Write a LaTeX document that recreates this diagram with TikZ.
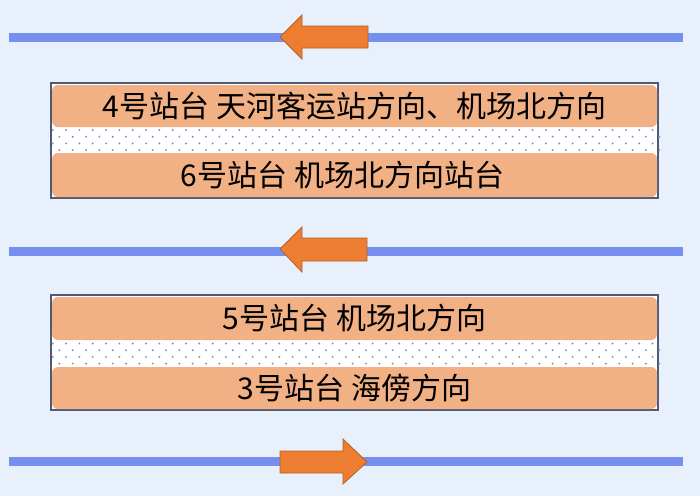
\documentclass[tikz,border=0pt]{standalone}
\usepackage{fontspec}
\newfontfamily\cjk{Noto Sans CJK SC}
\definecolor{bgc}{RGB}{232,240,251}
\definecolor{railc}{RGB}{118,144,240}
\definecolor{arrowc}{RGB}{237,125,49}
\definecolor{arrowd}{RGB}{180,95,40}
\definecolor{bandc}{RGB}{242,176,133}
\definecolor{framec}{RGB}{80,90,118}
\definecolor{dotc}{RGB}{130,145,205}
\tikzset{
  rail/.style={draw=railc, line width=9pt},
  dirarrow/.style={fill=arrowc, draw=arrowd, line width=0.8pt, line join=miter},
  frame/.style={draw=framec, fill=white, line width=1.1pt},
  band/.style={fill=bandc, rounded corners=6pt, inner sep=0pt, font=\cjk\fontsize{30}{30}\selectfont, text=black},
  dotmark/.style={fill=dotc, draw=none}
}
\begin{document}
\begin{tikzpicture}[x=1pt,y=-1pt]
\fill[bgc] (0,0) rectangle (700,496);
\useasboundingbox (0,0) rectangle (700,496);

% rails
\coordinate (r1a) at (9,37); \coordinate (r1b) at (683,37);
\coordinate (r2a) at (9,251); \coordinate (r2b) at (683,251);
\coordinate (r3a) at (9,461); \coordinate (r3b) at (683,461);
\draw[rail] (r1a) -- (r1b);
\draw[rail] (r2a) -- (r2b);
\draw[rail] (r3a) -- (r3b);

% arrows
\draw[dirarrow] (280,37) -- (302,15) -- (302,26) -- (368,26) -- (368,48) -- (302,48) -- (302,59) -- cycle;
\draw[dirarrow] (280,249) -- (302,227) -- (302,238) -- (367,238) -- (367,261) -- (302,261) -- (302,272) -- cycle;
\draw[dirarrow] (367,462) -- (343,439) -- (343,451) -- (280,451) -- (280,473) -- (343,473) -- (343,484) -- cycle;

% platform 1
\draw[frame] (51,83) rectangle (658,198);
\foreach \r in {0,1,2,3}{
  \pgfmathsetmacro{\yy}{130+6.7*\r}
  \pgfmathsetmacro{\xo}{mod(\r,2)==0 ? 52.7 : 59.4}
  \foreach \c in {0,...,45}{
    \fill[dotmark] ({\xo+13.33*\c},\yy) circle (1.1pt);
  }
}
\node[band, minimum width=605pt, minimum height=42pt] (p4) at (354.5,106) {4号站台 天河客运站方向、机场北方向};
\node[band, minimum width=605pt, minimum height=44pt] (p6) at (354.5,175) {6号站台 机场北方向站台\hspace*{24pt}};

% platform 2
\draw[frame] (51,295) rectangle (658,410);
\foreach \r in {0,1,2,3}{
  \pgfmathsetmacro{\yy}{343.5+6.7*\r}
  \pgfmathsetmacro{\xo}{mod(\r,2)==0 ? 52.7 : 59.4}
  \foreach \c in {0,...,45}{
    \fill[dotmark] ({\xo+13.33*\c},\yy) circle (1.1pt);
  }
}
\node[band, minimum width=605pt, minimum height=43pt] (p5) at (354.5,318.5) {5号站台 机场北方向};
\node[band, minimum width=605pt, minimum height=42pt] (p3) at (354.5,388) {3号站台 海傍方向};
\end{tikzpicture}
\end{document}
